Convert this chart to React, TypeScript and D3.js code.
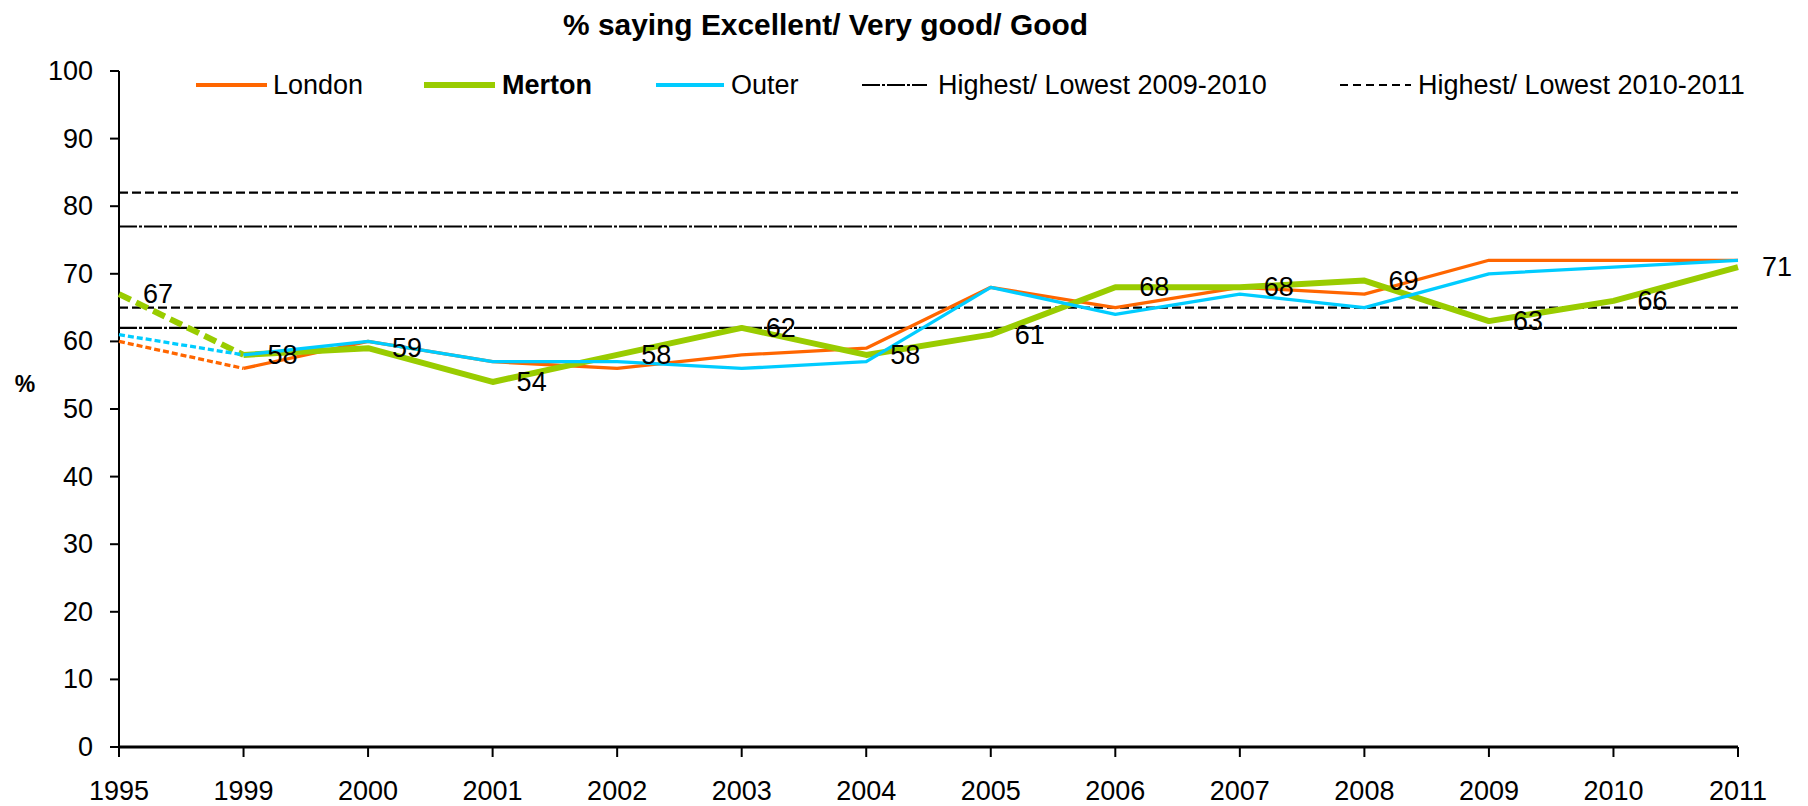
import React from "react";
import * as d3 from "d3";

const years = ["1995", "1999", "2000", "2001", "2002", "2003", "2004", "2005", "2006", "2007", "2008", "2009", "2010", "2011"];
const london = [60, 56, 60, 57, 56, 58, 59, 68, 65, 68, 67, 72, 72, 72];
const merton = [67, 58, 59, 54, 58, 62, 58, 61, 68, 68, 69, 63, 66, 71];
const outer = [61, 58, 60, 57, 57, 56, 57, 68, 64, 67, 65, 70, 71, 72];
const yTicks = [0, 10, 20, 30, 40, 50, 60, 70, 80, 90, 100];
const highLow2009_2010 = [77, 62];
const highLow2010_2011 = [82, 65];
const title = "% saying Excellent/ Very good/ Good";

const FONT = "'Liberation Sans', Arial, Helvetica, sans-serif";
const ORANGE = "#FF6600";
const GREEN = "#99CC00";
const CYAN = "#00CCFF";
const DASHDOT = "18,2,3,2";
const DASHED = "9,4";

export default function App() {
  const W = 1808, H = 806;
  const left = 119, right = 1738, top = 71, bottom = 747;
  const x = d3.scalePoint<string>().domain(years).range([left, right]);
  const y = d3.scaleLinear().domain([0, 100]).range([bottom, top]);

  const series = [
    { name: "London", values: london, color: ORANGE, width: 3.3, dash: "6,3" },
    { name: "Merton", values: merton, color: GREEN, width: 6, dash: "13,6" },
    { name: "Outer", values: outer, color: CYAN, width: 3.3, dash: "6,3" },
  ];

  const line = d3
    .line<[string, number]>()
    .x((d) => x(d[0]) as number)
    .y((d) => y(d[1]));

  const legendItems = [
    { label: "London", x0: 196, x1: 267, tx: 273, color: ORANGE, w: 4, dash: undefined as string | undefined, bold: false },
    { label: "Merton", x0: 424, x1: 495, tx: 502, color: GREEN, w: 6, dash: undefined, bold: true },
    { label: "Outer", x0: 656, x1: 724, tx: 731, color: CYAN, w: 4, dash: undefined, bold: false },
    { label: "Highest/ Lowest 2009-2010", x0: 862, x1: 927, tx: 938, color: "#000", w: 2, dash: DASHDOT, bold: false },
    { label: "Highest/ Lowest 2010-2011", x0: 1340, x1: 1411, tx: 1418, color: "#000", w: 2, dash: "8,5", bold: false },
  ];
  const legendY = 85;

  return (
    <svg width={W} height={H} style={{ position: "absolute", left: 0, top: 0, background: "#fff" }} fontFamily={FONT}>
      <rect width={W} height={H} fill="#fff" />
      <text x={563} y={35} fontSize={30} fontWeight="bold" textLength={525} lengthAdjust="spacingAndGlyphs">
        {title}
      </text>

      {/* reference lines */}
      {highLow2010_2011.map((v, i) => (
        <line key={"d" + i} x1={left} x2={right} y1={y(v)} y2={y(v)} stroke="#000" strokeWidth={2.2} strokeDasharray={DASHED} />
      ))}
      {highLow2009_2010.map((v, i) => (
        <line key={"dd" + i} x1={left} x2={right} y1={y(v)} y2={y(v)} stroke="#000" strokeWidth={2.2} strokeDasharray={DASHDOT} />
      ))}

      {/* y axis */}
      <line x1={left} x2={left} y1={top} y2={bottom} stroke="#000" strokeWidth={2} />
      {yTicks.map((t) => (
        <g key={t}>
          <line x1={left - 9} x2={left} y1={y(t)} y2={y(t)} stroke="#000" strokeWidth={2} />
          <text x={93} y={y(t)} fontSize={27} textAnchor="end" dominantBaseline="central">
            {t}
          </text>
        </g>
      ))}
      <text x={25} y={384} fontSize={23} fontWeight="bold" textAnchor="middle" dominantBaseline="central">
        %
      </text>

      {/* x axis */}
      <line x1={left} x2={right} y1={bottom} y2={bottom} stroke="#000" strokeWidth={3} />
      {years.map((yr) => (
        <g key={yr}>
          <line x1={x(yr)} x2={x(yr)} y1={bottom} y2={bottom + 10} stroke="#000" strokeWidth={2} />
          <text x={x(yr)} y={800} fontSize={27} textAnchor="middle">
            {yr}
          </text>
        </g>
      ))}

      {/* series */}
      {series.map((s) => {
        const pts: [string, number][] = years.map((yr, i) => [yr, s.values[i]]);
        return (
          <g key={s.name}>
            <path d={line(pts.slice(0, 2)) || ""} fill="none" stroke={s.color} strokeWidth={s.width} strokeDasharray={s.dash} />
            <path d={line(pts.slice(1)) || ""} fill="none" stroke={s.color} strokeWidth={s.width} strokeLinejoin="round" />
          </g>
        );
      })}

      {/* Merton data labels */}
      {merton.map((v, i) => (
        <text key={"l" + i} x={(x(years[i]) as number) + 24} y={y(v)} fontSize={27} dominantBaseline="central">
          {v}
        </text>
      ))}

      {/* legend */}
      {legendItems.map((it) => (
        <g key={it.label}>
          <line x1={it.x0} x2={it.x1} y1={legendY} y2={legendY} stroke={it.color} strokeWidth={it.w} strokeDasharray={it.dash} />
          <text x={it.tx} y={legendY} fontSize={27} fontWeight={it.bold ? "bold" : "normal"} dominantBaseline="central">
            {it.label}
          </text>
        </g>
      ))}
    </svg>
  );
}
